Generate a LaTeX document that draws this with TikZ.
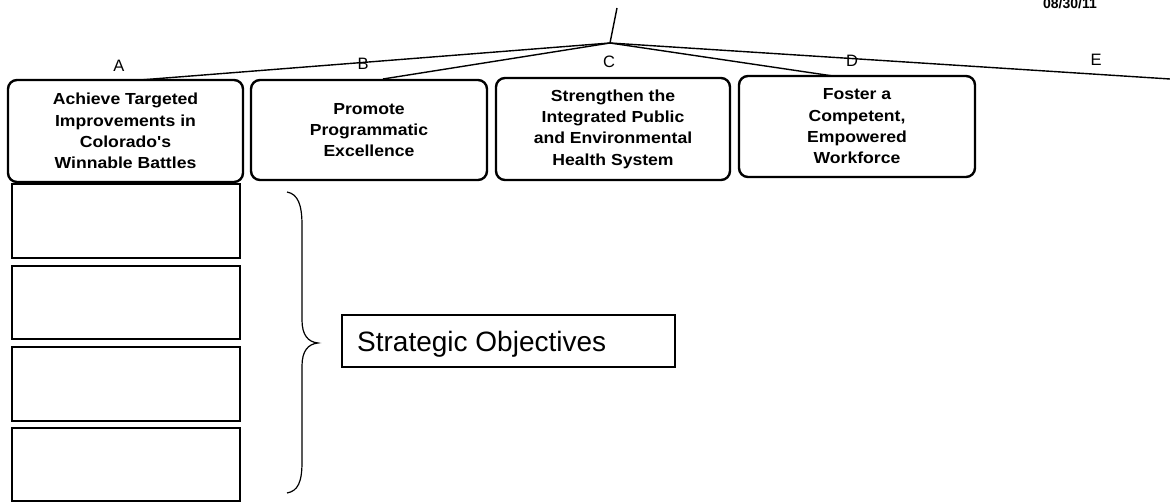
\documentclass[tikz,border=0pt]{standalone}
\usepackage{fontspec}
\setmainfont{Liberation Sans}
\newfontfamily\boxfont[FakeStretch=1.1]{Liberation Sans}
\begin{document}
\begin{tikzpicture}[x=1pt,y=-1pt,
  goalbox/.style={draw,line width=2.4pt,rounded corners=9pt,align=center,inner sep=0pt,
    font=\boxfont\bfseries\fontsize{16}{21.3}\selectfont},
  objbox/.style={draw,line width=1.4pt,inner sep=0pt},
  letter/.style={font=\fontsize{16.5}{16.5}\selectfont,inner sep=0pt},
  conn/.style={line width=1.4pt}]
\useasboundingbox (0,0) rectangle (1170,502);

% header date
\node[font=\bfseries\fontsize{14}{14}\selectfont,inner sep=0pt,anchor=base] (date) at (1070,9) {08/30/11};

% goal boxes
\node[goalbox,minimum width=235pt,minimum height=102pt] (gA) at (125.5,131) {Achieve Targeted\\Improvements in\\Colorado's\\Winnable Battles};
\node[goalbox,minimum width=236pt,minimum height=100pt] (gB) at (369,130) {Promote\\Programmatic\\Excellence};
\node[goalbox,minimum width=234pt,minimum height=102pt] (gC) at (613,129) {Strengthen the\\Integrated Public\\and Environmental\\Health System};
\node[goalbox,minimum width=236pt,minimum height=101pt] (gD) at (857,126.5) {Foster a\\Competent,\\Empowered\\Workforce};

% connector tree
\coordinate (apex) at (610,43);
\coordinate (top) at (617,8);
\coordinate (endA) at (140,80);
\coordinate (endB) at (383,79);
\coordinate (endD) at (833,76);
\coordinate (endE) at (1170,79);
\draw[conn] (top) -- (apex);
\draw[conn] (apex) -- (endA);
\draw[conn] (apex) -- (endB);
\draw[conn] (apex) -- (endD);
\draw[conn] (apex) -- (endE);

% letters
\node[letter] (lA) at (119,66) {A};
\node[letter] (lB) at (363,64) {B};
\node[letter] (lC) at (609,62) {C};
\node[letter] (lD) at (852,61) {D};
\node[letter] (lE) at (1096,60) {E};

% objective boxes
\node[objbox,minimum width=228pt,minimum height=74pt] (o1) at (126,221) {};
\node[objbox,minimum width=228pt,minimum height=73pt] (o2) at (126,302.5) {};
\node[objbox,minimum width=228pt,minimum height=74pt] (o3) at (126,384) {};
\node[objbox,minimum width=228pt,minimum height=73pt] (o4) at (126,464.5) {};

% brace
\draw[line width=1.2pt] (287,192) .. controls (298,194) and (302,205) .. (302,225)
  -- (302,320) .. controls (302,335) and (308,342) .. (318,343)
  .. controls (308,344) and (302,351) .. (302,366)
  -- (302,462) .. controls (302,482) and (298,491) .. (287,493);

% strategic objectives box
\node[draw,line width=1.4pt,minimum width=333pt,minimum height=52pt,inner sep=0pt] (so) at (508.5,341) {};
\node[font=\fontsize{28}{28}\selectfont,anchor=base west,inner sep=0pt] (sotext) at (357,352) {Strategic Objectives};
\end{tikzpicture}
\end{document}
